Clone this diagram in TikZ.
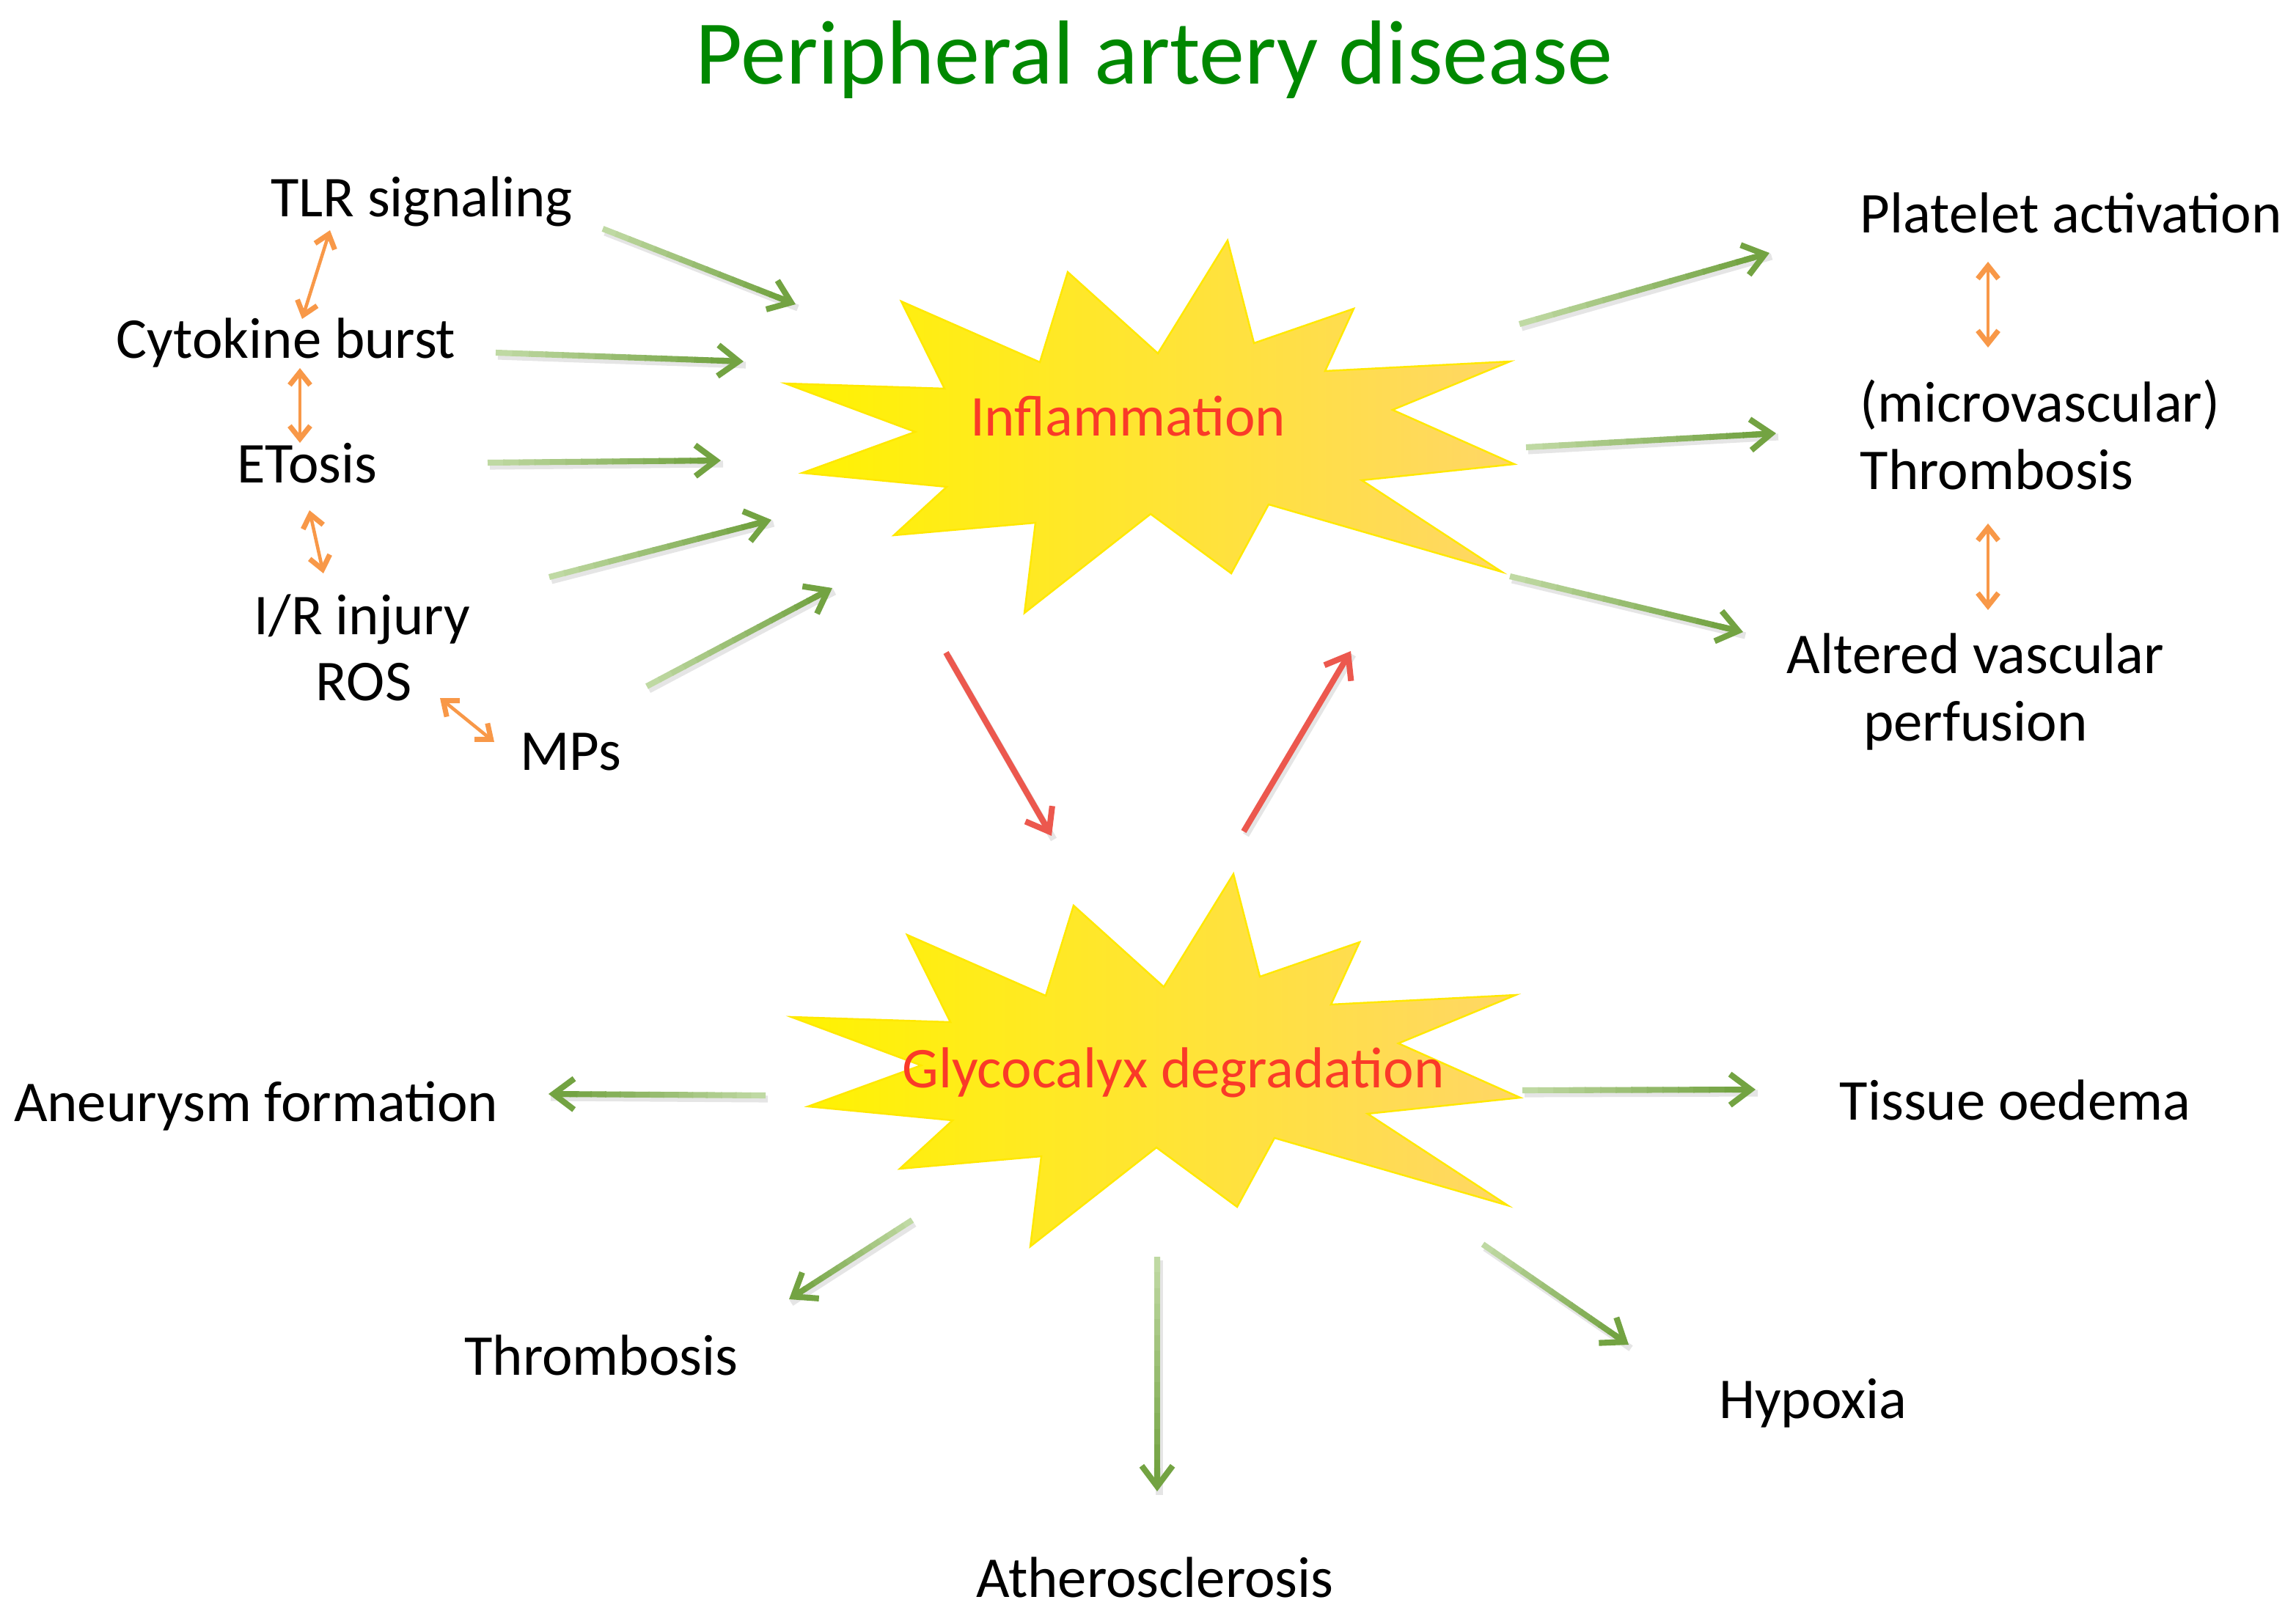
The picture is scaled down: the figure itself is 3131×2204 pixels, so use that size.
\documentclass[tikz,border=0pt]{standalone}
\usepackage{fontspec}
\setmainfont{Carlito}
\usetikzlibrary{arrows.meta,calc}
\definecolor{titlegreen}{RGB}{0,136,0}
\definecolor{redtext}{RGB}{250,58,40}
\definecolor{starY}{RGB}{255,243,0}
\definecolor{starO}{RGB}{255,214,102}
\definecolor{starE}{RGB}{255,232,0}
\definecolor{glight}{RGB}{205,226,180}
\definecolor{gdark}{RGB}{115,163,66}
\definecolor{redarr}{RGB}{236,88,78}
\definecolor{orarr}{RGB}{248,152,72}
\newcommand\garrow[2]{%
  \draw[gshadow] ($(#1)+(3,5)$) -- ($(#2)+(3,5)$);
  \foreach \k in {0,...,13}{%
    \pgfmathsetmacro\ta{\k/15}%
    \pgfmathsetmacro\tb{(\k+1)/15+0.006}%
    \pgfmathtruncatemacro\pc{15+85*\k/13}%
    \draw[gseg, draw=gdark!\pc!glight] ($(#1)!\ta!(#2)$) -- ($(#1)!\tb!(#2)$);
  }%
  \draw[gseg, draw=gdark, -{Straight Barb[length=8pt,width=12pt]}] ($(#1)!0.9!(#2)$) -- (#2);
}
\begin{document}
\begin{tikzpicture}[x=0.01cm,y=-0.01cm,
  lbl/.style={font=\fontsize{22.4}{26}\selectfont, text=black, inner sep=0pt, anchor=base},
  redlbl/.style={lbl, text=redtext},
  gseg/.style={line width=2.3pt, line cap=butt},
  gshadow/.style={line width=2.6pt, draw=black, opacity=0.10},
  rarrow/.style={draw=redarr, line width=2.3pt, -{Straight Barb[length=8pt,width=12pt]}},
  rshadow/.style={line width=2.6pt, draw=black, opacity=0.10},
  oarrow/.style={draw=orarr, line width=1.3pt, {Straight Barb[length=5pt,width=8pt,line width=2pt]}-{Straight Barb[length=5pt,width=8pt,line width=2pt]}},
  star/.style={draw=starE, line width=0.7pt, left color=starY, middle color=starY, right color=starO}
]
\useasboundingbox[fill=white] (0,0) rectangle (3131,2204);

% stars
\path[star] (1071,523) -- (1288,530) -- (1229,411) -- (1418,494) -- (1456,371) -- (1579,482)
  -- (1674,328) -- (1710,468) -- (1846,421) -- (1807,506) -- (2059,493) -- (1899,559)
  -- (2065,633) -- (1857,655) -- (2048,780) -- (1730,688) -- (1679,782) -- (1569,701)
  -- (1397,836) -- (1412,713) -- (1219,730) -- (1291,664) -- (1094,645) -- (1248,589) -- cycle;
\begin{scope}[shift={(8,864)}]
\path[star] (1071,523) -- (1288,530) -- (1229,411) -- (1418,494) -- (1456,371) -- (1579,482)
  -- (1674,328) -- (1710,468) -- (1846,421) -- (1807,506) -- (2059,493) -- (1899,559)
  -- (2065,633) -- (1857,655) -- (2048,780) -- (1730,688) -- (1679,782) -- (1569,701)
  -- (1397,836) -- (1412,713) -- (1219,730) -- (1291,664) -- (1094,645) -- (1248,589) -- cycle;
\end{scope}

% texts
\node[lbl, font=\fontsize{35.3}{40}\selectfont, text=titlegreen] (title) at (1574,115) {Peripheral artery disease};
\node[lbl] (tlr) at (575,296) {TLR signaling};
\node[lbl] (cyto) at (390,489) {Cytokine burst};
\node[lbl] (etosis) at (419,659) {ETosis};
\node[lbl] (ir) at (494,866) {I/R injury};
\node[lbl] (ros) at (496,955) {ROS};
\node[lbl] (mps) at (778,1050) {MPs};
\node[lbl, anchor=base west] (plat) at (2536,318) {Platelet activation};
\node[lbl, anchor=base west] (micro) at (2536,576) {(microvascular)};
\node[lbl, anchor=base west] (thromba) at (2536,668) {Thrombosis};
\node[lbl] (alt) at (2694,918) {Altered vascular};
\node[lbl] (perf) at (2694,1010) {perfusion};
\node[redlbl] (infl) at (1538,595) {Inflammation};
\node[redlbl] (glyc) at (1600,1483) {Glycocalyx degradation};
\node[lbl] (aneu) at (349,1529) {Aneurysm formation};
\node[lbl] (tissue) at (2748,1527) {Tissue oedema};
\node[lbl] (thrombb) at (820,1875) {Thrombosis};
\node[lbl] (ath) at (1575,2178) {Atherosclerosis};
\node[lbl] (hyp) at (2472,1934) {Hypoxia};

% connector end points
\coordinate (g1t) at (822,312);   \coordinate (g1h) at (1085,415);
\coordinate (g2t) at (676,481);   \coordinate (g2h) at (1014,493);
\coordinate (g3t) at (665,631);   \coordinate (g3h) at (983,628);
\coordinate (g4t) at (749,787);   \coordinate (g4h) at (1052,709);
\coordinate (g5t) at (882,936);   \coordinate (g5h) at (1135,802);
\coordinate (g6t) at (2072,442);  \coordinate (g6h) at (2413,345);
\coordinate (g7t) at (2081,610);  \coordinate (g7h) at (2422,591);
\coordinate (g8t) at (2059,786);  \coordinate (g8h) at (2377,862);
\coordinate (g9t) at (1044,1494); \coordinate (g9h) at (748,1492);
\coordinate (g10t) at (2076,1487);\coordinate (g10h) at (2394,1486);
\coordinate (g11t) at (1244,1664);\coordinate (g11h) at (1076,1772);
\coordinate (g12t) at (1578,1714);\coordinate (g12h) at (1578,2034);
\coordinate (g13t) at (2022,1697);\coordinate (g13h) at (2221,1834);
\coordinate (r1t) at (1290,890);  \coordinate (r1h) at (1434,1140);
\coordinate (r2t) at (1696,1134); \coordinate (r2h) at (1842,888);
\coordinate (o1a) at (450,314);   \coordinate (o1b) at (412,435);
\coordinate (o2a) at (409,502);   \coordinate (o2b) at (409,604);
\coordinate (o3a) at (422,696);   \coordinate (o3b) at (441,782);
\coordinate (o4a) at (600,952);   \coordinate (o4b) at (674,1012);
\coordinate (o5a) at (2711,357);  \coordinate (o5b) at (2711,474);
\coordinate (o6a) at (2711,714);  \coordinate (o6b) at (2711,832);

% green arrows
\garrow{g1t}{g1h}
\garrow{g2t}{g2h}
\garrow{g3t}{g3h}
\garrow{g4t}{g4h}
\garrow{g5t}{g5h}
\garrow{g6t}{g6h}
\garrow{g7t}{g7h}
\garrow{g8t}{g8h}
\garrow{g9t}{g9h}
\garrow{g10t}{g10h}
\garrow{g11t}{g11h}
\garrow{g12t}{g12h}
\garrow{g13t}{g13h}

% red arrows
\draw[rshadow] ($(r1t)+(3,5)$) -- ($(r1h)+(3,5)$);
\draw[rshadow] ($(r2t)+(3,5)$) -- ($(r2h)+(3,5)$);
\draw[rarrow] (r1t) -- (r1h);
\draw[rarrow] (r2t) -- (r2h);

% orange double arrows
\draw[oarrow] (o1a) -- (o1b);
\draw[oarrow] (o2a) -- (o2b);
\draw[oarrow] (o3a) -- (o3b);
\draw[oarrow] (o4a) -- (o4b);
\draw[oarrow] (o5a) -- (o5b);
\draw[oarrow] (o6a) -- (o6b);
\end{tikzpicture}
\end{document}
